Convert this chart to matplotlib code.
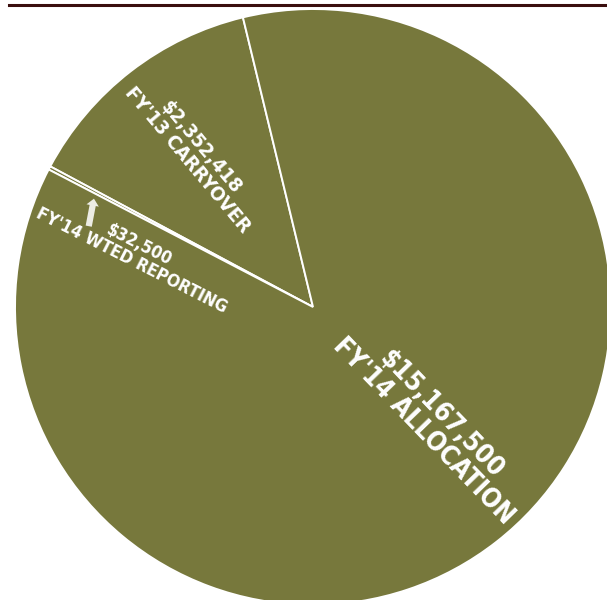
import numpy as np
import matplotlib
matplotlib.use('Agg')
import matplotlib.pyplot as plt
from matplotlib.lines import Line2D

# slice values, counter-clockwise from the top
labels = ["FY'13 CARRYOVER", "FY'14 WTED REPORTING", "FY'14 ALLOCATION"]
values = [2352418, 32500, 15167500]
amounts = ["$2,352,418", "$32,500", "$15,167,500"]

olive = '#77783c'

plt.rcParams['font.family'] = ['DejaVu Sans']

fig = plt.figure(figsize=(6.07, 6.0), dpi=100)
ax = fig.add_axes([0, 0, 1, 1])

cx, cy, R = 313, 293, 298
wedges, _ = ax.pie(values, startangle=103.6, counterclock=True,
                   center=(cx, cy), radius=R, colors=[olive] * 3,
                   wedgeprops=dict(edgecolor='white', linewidth=1.4))
ax.set_xlim(0, 607)
ax.set_ylim(0, 600)
ax.set_aspect('equal')
ax.axis('off')


def polar(w, dang, rf):
    a = np.radians((w.theta1 + w.theta2) / 2 + dang)
    return cx + rf * R * np.cos(a), cy + rf * R * np.sin(a)


# label placement: (angle offset, radius fraction, rotation, font size)
place = [(0, 0.65, -50, 14.5), (10.9, 0.624, -27, 12.5), (7.6, 0.557, -46, 19)]
for w, lab, amt, (da, rf, rot, fs) in zip(wedges, labels, amounts, place):
    x, y = polar(w, da, rf)
    ax.text(x, y, amt + '\n' + lab, color='white', fontsize=fs,
            fontweight='bold', fontstretch='condensed',
            rotation=rot, rotation_mode='anchor',
            ha='center', va='center', multialignment='center',
            linespacing=0.95)

# small arrow pointing at the thin slice
ax.annotate('', xy=polar(wedges[1], 1.5, 0.82), xytext=polar(wedges[1], 8, 0.80),
            arrowprops=dict(arrowstyle='simple,head_width=0.9,head_length=0.5,tail_width=0.45',
                            color='#ececE4', lw=0, shrinkA=0, shrinkB=0))

fig.add_artist(Line2D([9 / 607, 1], [1 - 5 / 600] * 2, color='#3a0e0e',
                      lw=2.2, transform=fig.transFigure))

fig.savefig('out.png', dpi=100)
